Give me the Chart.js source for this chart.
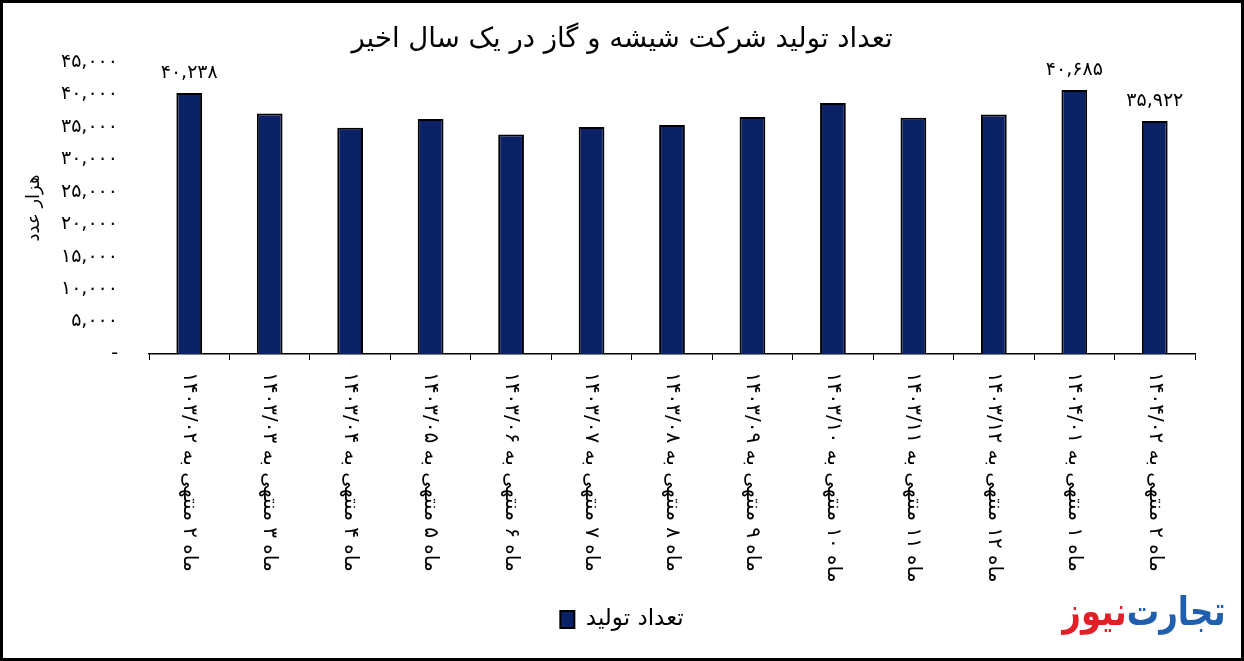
<!DOCTYPE html>
<html>
<head>
<meta charset="utf-8">
<script src="https://cdn.jsdelivr.net/npm/chart.js@4.4.0/dist/chart.umd.min.js"></script>
<style>
  body { margin: 0; background: #fff; }
  #wrap { position: relative; width: 1244px; height: 661px; }
  #logo { position: absolute; right: 18px; top: 588px; direction: rtl;
          font-family: "DejaVu Sans", sans-serif; font-weight: bold; font-size: 40px;
          transform: scaleX(0.81); transform-origin: right center; }
  #logo .a { color: #1f5fae; }
  #logo .b { color: #e21e26; }
</style>
</head>
<body>
<div id="wrap">
  <canvas id="chart" width="1244" height="661"></canvas>
  <div id="logo"><span class="a">تجارت&zwnj;</span><span class="b">نیوز</span></div>
</div>
<script>
const categories = [
    'ماه ۲ منتهی به ۱۴۰۳/۰۲', 'ماه ۳ منتهی به ۱۴۰۳/۰۳', 'ماه ۴ منتهی به ۱۴۰۳/۰۴',
    'ماه ۵ منتهی به ۱۴۰۳/۰۵', 'ماه ۶ منتهی به ۱۴۰۳/۰۶', 'ماه ۷ منتهی به ۱۴۰۳/۰۷',
    'ماه ۸ منتهی به ۱۴۰۳/۰۸', 'ماه ۹ منتهی به ۱۴۰۳/۰۹', 'ماه ۱۰ منتهی به ۱۴۰۳/۱۰',
    'ماه ۱۱ منتهی به ۱۴۰۳/۱۱', 'ماه ۱۲ منتهی به ۱۴۰۳/۱۲', 'ماه ۱ منتهی به ۱۴۰۴/۰۱',
    'ماه ۲ منتهی به ۱۴۰۴/۰۲'
];
const production = [40238, 37050, 34850, 36230, 33820, 35000, 35310, 36540, 38690, 36390, 36890, 40685, 35922];
const valueLabels = ['۴۰,۲۳۸', null, null, null, null, null, null, null, null, null, null, '۴۰,۶۸۵', '۳۵,۹۲۲'];
const yTickLabels = ['-', '۵,۰۰۰', '۱۰,۰۰۰', '۱۵,۰۰۰', '۲۰,۰۰۰', '۲۵,۰۰۰', '۳۰,۰۰۰', '۳۵,۰۰۰', '۴۰,۰۰۰', '۴۵,۰۰۰'];

const FONT = '"DejaVu Sans", sans-serif';

// frame, rotated category labels and the few value labels
const extras = {
    id: 'extras',
    afterDraw(chart) {
        const ctx = chart.ctx;
        const xs = chart.scales.x;
        ctx.save();
        ctx.fillStyle = '#000';
        ctx.font = '20px ' + FONT;
        ctx.textAlign = 'left';
        ctx.textBaseline = 'middle';
        ctx.direction = 'rtl';
        categories.forEach((c, i) => {
            ctx.save();
            ctx.translate(xs.getPixelForValue(i), xs.top + 18);
            ctx.rotate(Math.PI / 2);
            ctx.fillText(c, 0, 0);
            ctx.restore();
        });

        const meta = chart.getDatasetMeta(0);
        ctx.font = '19px ' + FONT;
        ctx.textAlign = 'center';
        ctx.textBaseline = 'bottom';
        valueLabels.forEach((t, i) => {
            if (!t) return;
            const bar = meta.data[i];
            ctx.fillText(t, bar.x, bar.y - 10);
        });

        ctx.strokeStyle = '#000';
        ctx.lineWidth = 3;
        ctx.strokeRect(1.5, 1.5, chart.width - 3, chart.height - 3);
        ctx.restore();
    }
};

const ctx = document.getElementById('chart').getContext('2d');
const chart = new Chart(ctx, {
    type: 'bar',
    data: {
        labels: categories,
        datasets: [{
            label: 'تعداد تولید',
            data: production,
            backgroundColor: '#0c2266',
            borderColor: '#000',
            borderWidth: 2,
            barPercentage: 0.32,
            categoryPercentage: 1
        }]
    },
    options: {
        responsive: false,
        animation: false,
        layout: { padding: { top: 6, right: 49, bottom: 20, left: 49 } },
        plugins: {
            title: {
                display: true,
                text: 'تعداد تولید شرکت شیشه و گاز در یک سال اخیر',
                color: '#000',
                font: { family: FONT, size: 27.5, weight: 'normal' },
                padding: { top: 17, bottom: 6 }
            },
            legend: {
                position: 'bottom',
                labels: {
                    color: '#000',
                    font: { family: FONT, size: 23 },
                    boxWidth: 14,
                    boxHeight: 17,
                    padding: 10
                }
            },
            tooltip: { enabled: false }
        },
        scales: {
            x: {
                grid: { display: true, drawOnChartArea: false, color: '#000', tickLength: 6, offset: true },
                border: { display: true, color: '#000', width: 1.5 },
                ticks: { display: false },
                afterFit(scale) { scale.height = 244; }
            },
            y: {
                min: 0,
                max: 45000,
                grid: { display: false, drawTicks: false },
                border: { display: false },
                ticks: {
                    stepSize: 5000,
                    color: '#000',
                    padding: 31,
                    font: { family: FONT, size: 19 },
                    callback: (v, i) => yTickLabels[i]
                },
                title: {
                    display: true,
                    text: 'هزار عدد',
                    color: '#000',
                    font: { family: FONT, size: 18 },
                    padding: { top: -25, bottom: 0 }
                },
                afterFit(scale) { scale.width = 100; }
            }
        }
    },
    plugins: [extras]
});
</script>
</body>
</html>
